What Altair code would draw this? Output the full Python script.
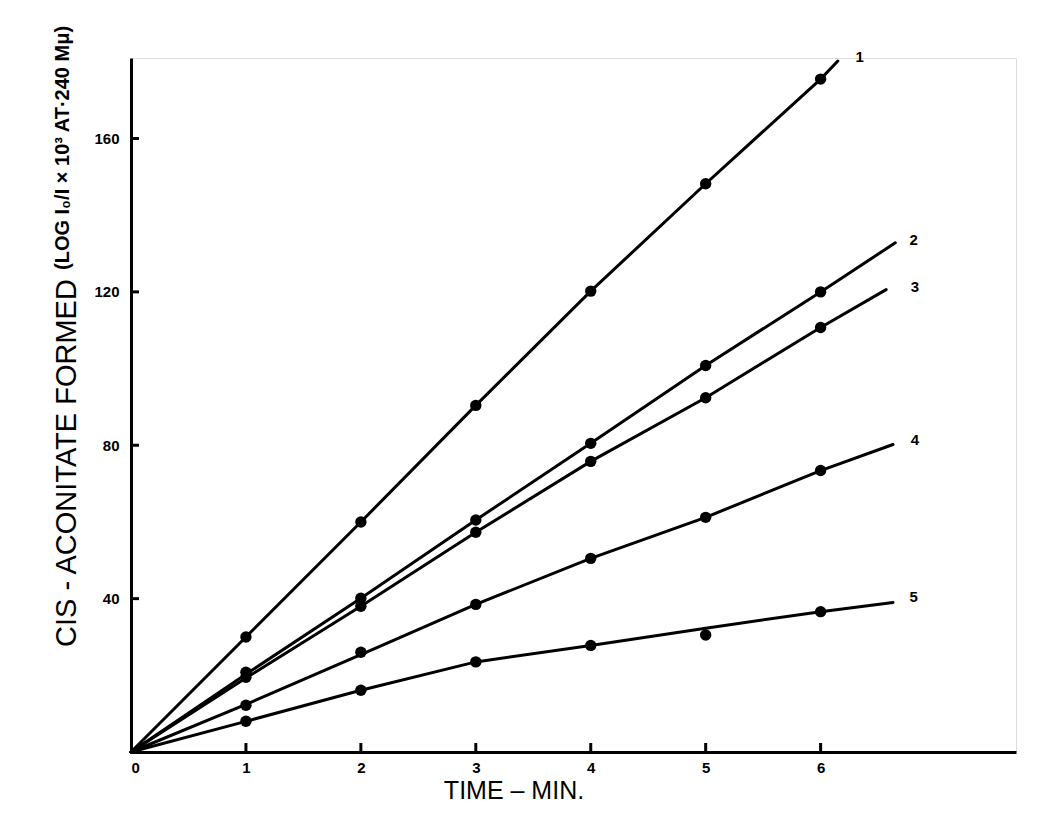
import altair as alt
import pandas as pd

# ---- data ----
times = [1, 2, 3, 4, 5, 6]
pts_1 = [30.0, 60.0, 90.4, 120.2, 148.2, 175.5]
pts_2 = [20.8, 40.1, 60.5, 80.5, 100.8, 120.0]
pts_3 = [19.5, 38.0, 57.3, 75.8, 92.4, 110.7]
pts_4 = [12.2, 26.0, 38.5, 50.5, 61.2, 73.4]
pts_5 = [8.0, 16.1, 23.5, 27.8, 30.5, 36.6]

# drawn (fitted) lines: vertices x / y
line_x_1 = [0, 1, 2, 3, 4, 5, 6, 6.15]
line_y_1 = [0, 30.0, 60.0, 90.4, 120.2, 148.2, 175.5, 180.2]
line_x_2 = [0, 1, 2, 3, 4, 5, 6, 6.65]
line_y_2 = [0, 20.3, 40.1, 60.5, 80.5, 100.8, 120.0, 132.8]
line_x_3 = [0, 1, 2, 3, 4, 5, 6, 6.57]
line_y_3 = [0, 19.3, 38.0, 57.3, 75.8, 92.4, 110.7, 120.6]
line_x_4 = [0, 1, 2, 3, 4, 5, 6, 6.63]
line_y_4 = [0, 12.4, 25.4, 38.5, 50.5, 61.2, 73.4, 80.2]
line_x_5 = [0, 1, 2, 3, 4, 5, 6, 6.63]
line_y_5 = [0, 8.0, 16.1, 23.5, 27.8, 32.3, 36.6, 39.0]

curve_names = ["1", "2", "3", "4", "5"]
label_x = [6.34, 6.81, 6.82, 6.82, 6.81]
label_y = [181.3, 133.6, 121.3, 81.4, 40.4]

x_tick_values = [1, 2, 3, 4, 5, 6]
x_label_values = [0, 1, 2, 3, 4, 5, 6]
y_tick_values = [40, 80, 120, 160]

x_title = "TIME \u2013 MIN."
y_title_main = "CIS - ACONITATE  FORMED"
y_title_sub = "(LOG I\u2080/I \u00d7 10\u00b3  AT\u00b7240 M\u03bc)"

# ---- tables ----
all_pts = [pts_1, pts_2, pts_3, pts_4, pts_5]
lx = [line_x_1, line_x_2, line_x_3, line_x_4, line_x_5]
ly = [line_y_1, line_y_2, line_y_3, line_y_4, line_y_5]

points_df = pd.DataFrame(
    [{"curve": n, "t": t, "v": v} for n, p in zip(curve_names, all_pts) for t, v in zip(times, p)]
)
lines_df = pd.DataFrame(
    [{"curve": n, "t": t, "v": v, "o": i}
     for n, xs, ys in zip(curve_names, lx, ly) for i, (t, v) in enumerate(zip(xs, ys))]
)
labels_df = pd.DataFrame({"curve": curve_names, "t": label_x, "v": label_y})
xt_df = pd.DataFrame({"tx": x_tick_values})
yt_df = pd.DataFrame({"ty": y_tick_values})

FONT = "Liberation Sans"
xs = alt.Scale(domain=[0, 7.7], nice=False, zero=False)
ys = alt.Scale(domain=[0, 181], nice=False, zero=False)

x_axis = alt.Axis(values=x_label_values, format="d", title=None, ticks=False, tickSize=0, grid=False,
                  domainColor="black", domainWidth=3, labelFont=FONT, labelFontSize=15,
                  labelFontWeight="bold", labelColor="black", labelPadding=8)
y_axis = alt.Axis(values=y_tick_values, format="d", title=None, ticks=False, tickSize=0, grid=False,
                  domainColor="black", domainWidth=3, labelFont=FONT, labelFontSize=15,
                  labelFontWeight="bold", labelColor="black", labelPadding=12)

lines = alt.Chart(lines_df).mark_line(color="black", strokeWidth=3, strokeCap="round").encode(
    x=alt.X("t:Q", scale=xs, axis=x_axis),
    y=alt.Y("v:Q", scale=ys, axis=y_axis),
    detail="curve:N",
    order="o:Q",
)
points = alt.Chart(points_df).mark_point(filled=True, color="black", size=130, opacity=1).encode(
    x=alt.X("t:Q", scale=xs), y=alt.Y("v:Q", scale=ys)
)
labels = alt.Chart(labels_df).mark_text(font=FONT, fontSize=15, fontWeight="bold", color="black",
                                        align="center", baseline="middle").encode(
    x=alt.X("t:Q", scale=xs), y=alt.Y("v:Q", scale=ys), text="curve:N"
)
# short inward tick marks (positions along the axis come from the scales)
xticks = alt.Chart(xt_df).mark_rule(color="black", strokeWidth=3).encode(
    x=alt.X("tx:Q", scale=xs), y=alt.value(694), y2=alt.value(685)
)
yticks = alt.Chart(yt_df).mark_rule(color="black", strokeWidth=3).encode(
    y=alt.Y("ty:Q", scale=ys), x=alt.value(0), x2=alt.value(8)
)
xtitle = alt.Chart(pd.DataFrame({"s": [x_title]})).mark_text(
    font=FONT, fontSize=25, color="black", align="center", baseline="middle"
).encode(text="s:N", x=alt.value(383), y=alt.value(733))
ytitle1 = alt.Chart(pd.DataFrame({"s": [y_title_main]})).mark_text(
    font=FONT, fontSize=29, color="black", align="left", baseline="middle", angle=270
).encode(text="s:N", x=alt.value(-64), y=alt.value(589))
ytitle2 = alt.Chart(pd.DataFrame({"s": [y_title_sub]})).mark_text(
    font=FONT, fontSize=20, fontWeight="bold", color="black", align="left", baseline="middle", angle=270
).encode(text="s:N", x=alt.value(-68), y=alt.value(212))

chart = alt.layer(lines, points, labels, xticks, yticks, xtitle, ytitle1, ytitle2).properties(
    width=885, height=694,
    autosize=alt.AutoSizeParams(type="none"),
    padding={"left": 123, "top": 50, "right": 34, "bottom": 68},
).configure_view(stroke=None).configure(background="white")

chart.save("out.html", embed_options={"renderer": "svg", "actions": False})
